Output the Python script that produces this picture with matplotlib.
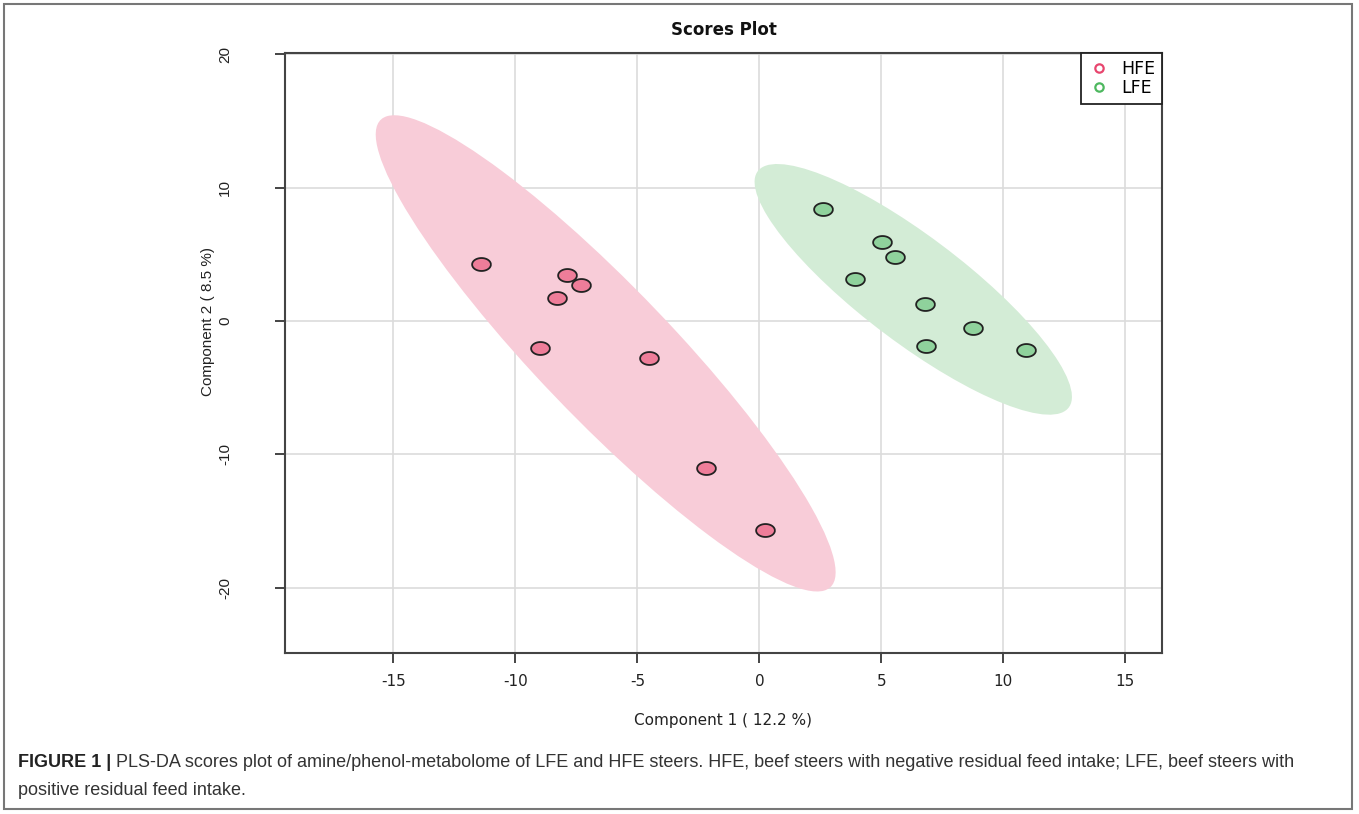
"""PLS-DA scores plot"""
import numpy as np
import matplotlib
matplotlib.use('Agg')
import matplotlib.pyplot as plt
from matplotlib.patches import Ellipse, Rectangle

plt.rcParams['axes.unicode_minus'] = False

# scores
hfe_x = [-11.41, -7.89, -7.32, -8.30, -8.99, -4.53, -2.20, 0.25]
hfe_y = [4.25, 3.47, 2.68, 1.73, -2.05, -2.80, -11.0, -15.7]
lfe_x = [2.61, 5.03, 5.56, 3.93, 6.80, 8.76, 6.83, 10.93]
lfe_y = [8.38, 5.95, 4.78, 3.13, 1.28, -0.50, -1.85, -2.18]
groups = ['HFE', 'LFE']
x_ticks = [-15, -10, -5, 0, 5, 10, 15]
y_ticks = [-20, -10, 0, 10, 20]
var_pc1 = 12.2
var_pc2 = 8.5

caption_bold = 'FIGURE 1 |'
caption_rest = (' PLS-DA scores plot of amine/phenol-metabolome of LFE and HFE steers. '
                'HFE, beef steers with negative residual feed intake; LFE, beef steers with')
caption_line2 = 'positive residual feed intake.'

fill_cols = {'HFE': '#f8ccd8', 'LFE': '#d3ecd6'}
pt_cols = {'HFE': '#ee7d99', 'LFE': '#8fd29c'}
leg_cols = {'HFE': '#e8456e', 'LFE': '#4db85f'}


def conf_ellipse(x, y, color, ax):
    """95% normal ellipse, like ellipse::ellipse(level=0.95)"""
    x = np.asarray(x); y = np.asarray(y)
    cov = np.cov(x, y)
    vals, vecs = np.linalg.eigh(cov)
    t = np.sqrt(5.991)
    ang = np.degrees(np.arctan2(vecs[1, 1], vecs[0, 1]))
    e = Ellipse((x.mean(), y.mean()), 2 * t * np.sqrt(vals[1]), 2 * t * np.sqrt(vals[0]),
                angle=ang, facecolor=color, edgecolor='none', zorder=1)
    ax.add_patch(e)


# horizontally stretched circle, the source image was squashed
th = np.linspace(0, 2 * np.pi, 60)
oval = np.column_stack([1.45 * np.cos(th), np.sin(th)])

fig = plt.figure(figsize=(13.59, 8.14), dpi=100)
ax = fig.add_axes([285 / 1359, 1 - 653 / 814, 877 / 1359, 600 / 814])

ax.set_xlim(-19.44, 16.5)
ax.set_ylim(-24.9, 20.1)
ax.set_xticks(x_ticks)
ax.set_yticks(y_ticks)
ax.grid(True, color='#dcdcdc', linewidth=1.2, zorder=0)
ax.set_axisbelow(True)

conf_ellipse(hfe_x, hfe_y, fill_cols['HFE'], ax)
conf_ellipse(lfe_x, lfe_y, fill_cols['LFE'], ax)

ax.plot(hfe_x, hfe_y, linestyle='none', marker=oval, ms=13.5, mfc=pt_cols['HFE'],
        mec='#222222', mew=1.3, zorder=3)
ax.plot(lfe_x, lfe_y, linestyle='none', marker=oval, ms=13.5, mfc=pt_cols['LFE'],
        mec='#222222', mew=1.3, zorder=3)

# legend with open circles
for g in groups:
    ax.plot([], [], linestyle='none', marker='o', ms=6, mfc='none', mec=leg_cols[g],
            mew=1.6, label=g)
leg = ax.legend(loc='upper right', borderaxespad=0, fancybox=False, framealpha=1,
                edgecolor='#222222', handletextpad=0.6, handlelength=1.3,
                borderpad=0.4, labelspacing=0.05,
                prop={'family': 'DejaVu Sans', 'size': 12.5})
leg.get_frame().set_linewidth(1.3)

for s in ax.spines.values():
    s.set_color('#444444')
    s.set_linewidth(1.5)

ax.tick_params(axis='x', direction='out', length=7, width=1.4, color='#444444',
               pad=8, labelsize=11, labelcolor='#222222')
ax.tick_params(axis='y', direction='out', length=7, width=1.4, color='#444444',
               pad=31, labelsize=11, labelcolor='#222222')
for lab in ax.get_xticklabels():
    lab.set_family('DejaVu Sans')
for lab in ax.get_yticklabels():
    lab.set_family('Liberation Sans')
    lab.set_rotation(90)
    lab.set_va('center')

ax.set_xlabel(f'Component 1 ( {var_pc1} %)', fontsize=11, family='DejaVu Sans', color='#222222')
ax.xaxis.set_label_coords(0.5, -0.1)
ax.set_ylabel(f'Component 2 ( {var_pc2} %)', fontsize=11, family='Liberation Sans', color='#222222')
ax.yaxis.set_label_coords(-0.08, 0.553)

fig.text((285 + 1162) / 2 / 1359, 1 - 30 / 814, 'Scores Plot', ha='center', va='center',
         fontsize=12, fontweight='bold', family='DejaVu Sans', color='#111111')

# caption under the chart
cap_font = ['Liberation Sans Narrow', 'Liberation Sans', 'DejaVu Sans']
t1 = fig.text(18 / 1359, 1 - 767 / 814, caption_bold, fontsize=13, fontweight='bold',
              family=cap_font, color='#222222', va='baseline')
fig.canvas.draw()
x1 = t1.get_window_extent(fig.canvas.get_renderer()).x1
fig.text(x1 / 1359, 1 - 767 / 814, caption_rest, fontsize=13, family=cap_font,
         color='#333333', va='baseline')
fig.text(18 / 1359, 1 - 795 / 814, caption_line2, fontsize=13, family=cap_font,
         color='#333333', va='baseline')

# outer frame of the figure panel
fig.add_artist(Rectangle((4 / 1359, 5 / 814), 1348 / 1359, 805 / 814, transform=fig.transFigure,
                         fill=False, edgecolor='#777777', linewidth=1.5))

plt.savefig('out.png', dpi=100)
plt.close()
